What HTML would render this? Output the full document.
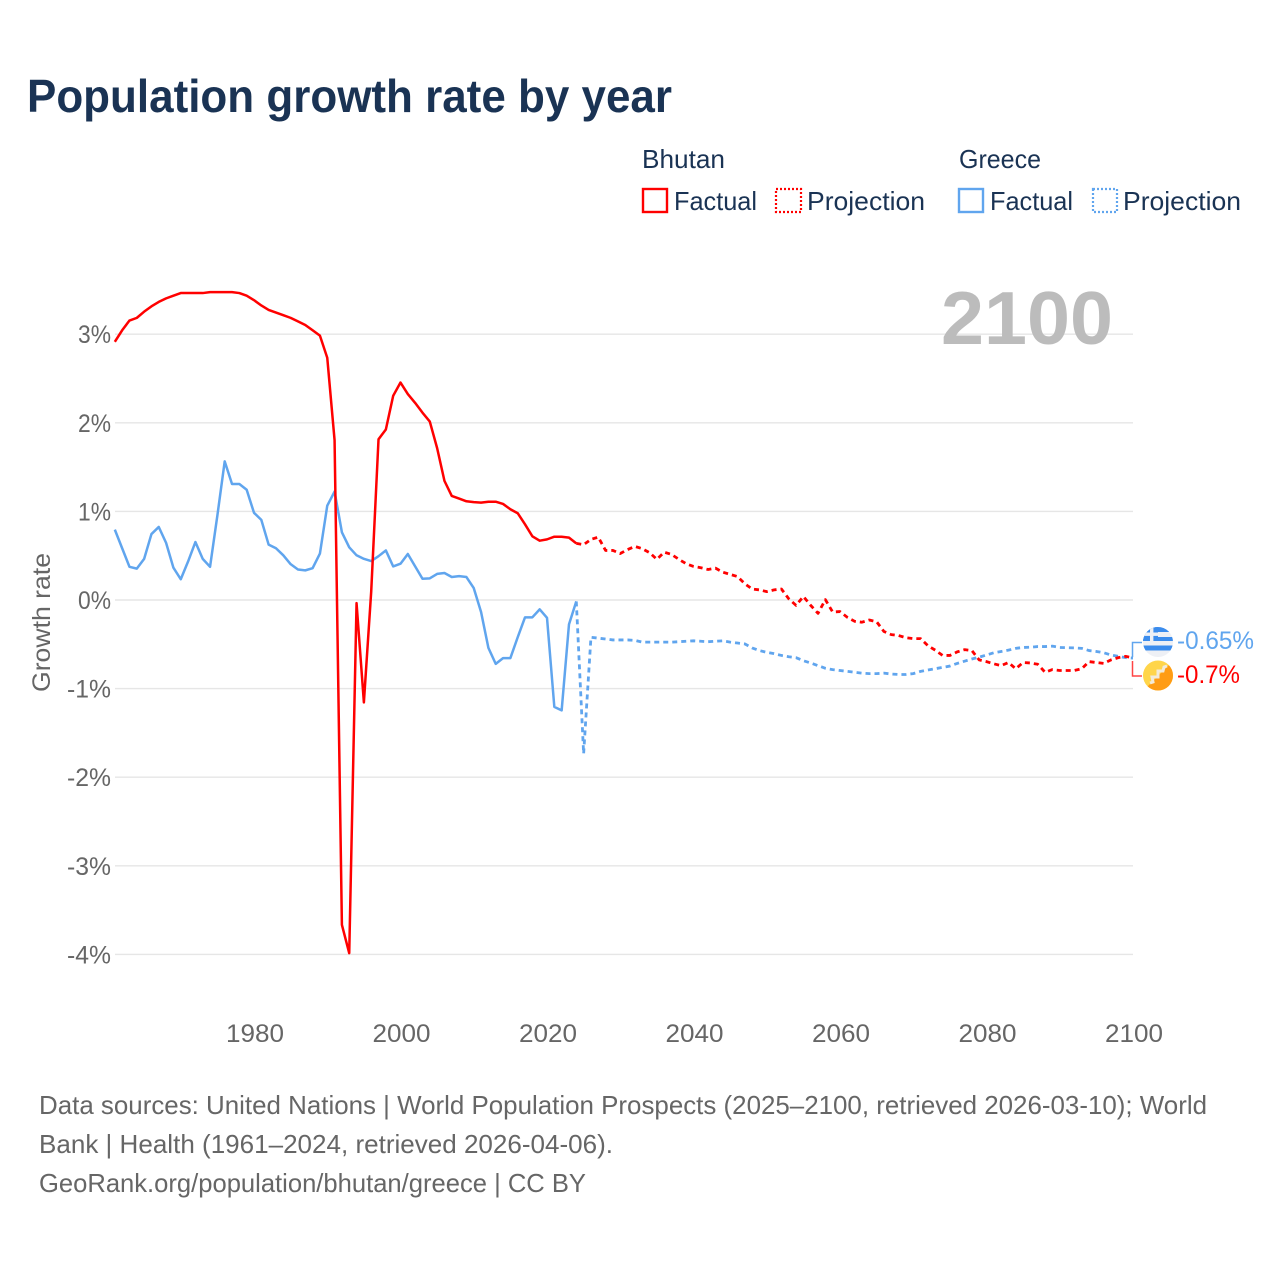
<!DOCTYPE html>
<html lang="en">
<head>
<meta charset="utf-8">
<title>Population growth rate by year</title>
<style>
html,body{margin:0;padding:0;background:#fff;}
svg{display:block;font-family:"Liberation Sans",sans-serif;}
</style>
</head>
<body>
<svg id="chart" width="1280" height="1280" viewBox="0 0 1280 1280" xmlns="http://www.w3.org/2000/svg">
<defs>
<clipPath id="flag-clip-gr"><circle cx="1158" cy="642" r="15"/></clipPath>
<clipPath id="flag-clip-bt"><circle cx="1158" cy="675.5" r="15"/></clipPath>
</defs>
<rect x="0" y="0" width="1280" height="1280" fill="#ffffff"/>
<text x="27" y="112" font-size="46" font-weight="700" fill="#1a3354" textLength="645" lengthAdjust="spacingAndGlyphs">Population growth rate by year</text>

<g font-size="26" fill="#1a3354">
<text x="642" y="168" textLength="83" lengthAdjust="spacingAndGlyphs">Bhutan</text>
<text x="959" y="168" textLength="82" lengthAdjust="spacingAndGlyphs">Greece</text>
<rect x="643" y="189" width="24" height="23" fill="none" stroke="#ff0000" stroke-width="2.4"/>
<text x="674" y="210" textLength="83" lengthAdjust="spacingAndGlyphs">Factual</text>
<rect x="776" y="189" width="25" height="23" fill="none" stroke="#ff0000" stroke-width="2.2" stroke-dasharray="2 2"/>
<text x="807" y="210" textLength="118" lengthAdjust="spacingAndGlyphs">Projection</text>
<rect x="959" y="189" width="24" height="23" fill="none" stroke="#60a5ee" stroke-width="2.4"/>
<text x="990" y="210" textLength="83" lengthAdjust="spacingAndGlyphs">Factual</text>
<rect x="1093" y="189" width="24" height="23" fill="none" stroke="#60a5ee" stroke-width="2.2" stroke-dasharray="2 2"/>
<text x="1123" y="210" textLength="118" lengthAdjust="spacingAndGlyphs">Projection</text>
</g>

<g id="grid"></g>
<text x="941" y="344" font-size="75" font-weight="700" fill="#bcbcbc" textLength="172" lengthAdjust="spacingAndGlyphs">2100</text>
<g id="yticks"></g>
<g id="xticks"></g>
<text transform="translate(50 692) rotate(-90)" x="0" y="0" font-size="25" fill="#666666" textLength="139" lengthAdjust="spacingAndGlyphs">Growth rate</text>
<g id="series"></g>

<path d="M1132.5 657V642.5H1142" fill="none" stroke="#60a5ee" stroke-width="1.5"/>
<path d="M1132.5 661V676H1142" fill="none" stroke="#ff4444" stroke-width="1.5"/>

<g clip-path="url(#flag-clip-gr)">
<rect x="1143" y="627" width="30" height="30" fill="#eef0f5"/>
<rect x="1143" y="627" width="30" height="5" fill="#3b8ced"/>
<rect x="1143" y="637" width="30" height="4" fill="#3b8ced"/>
<rect x="1143" y="645.5" width="30" height="5" fill="#3b8ced"/>
<rect x="1143" y="627" width="15" height="14" fill="#3b8ced"/>
<rect x="1150" y="627" width="3.4" height="14" fill="#eef0f5"/>
<rect x="1143" y="632.5" width="15" height="3.4" fill="#eef0f5"/>
</g>
<g clip-path="url(#flag-clip-bt)">
<rect x="1143" y="660" width="31" height="31" fill="#ffd54a"/>
<path d="M1174 660V691H1143Z" fill="#ff9c14"/>
<path d="M1150 683L1153 682L1152 677L1158 677L1158 671L1163 671L1164 667L1167 666" fill="none" stroke="#f3ead8" stroke-width="3"/>
</g>
<text x="1177" y="649" font-size="25" fill="#60a5ee" textLength="77" lengthAdjust="spacingAndGlyphs">-0.65%</text>
<text x="1177" y="683" font-size="25" fill="#ff0000" textLength="63" lengthAdjust="spacingAndGlyphs">-0.7%</text>

<g font-size="26" fill="#666666">
<text x="39" y="1114" textLength="1168" lengthAdjust="spacingAndGlyphs">Data sources: United Nations | World Population Prospects (2025–2100, retrieved 2026-03-10); World</text>
<text x="39" y="1153" textLength="574" lengthAdjust="spacingAndGlyphs">Bank | Health (1961–2024, retrieved 2026-04-06).</text>
<text x="39" y="1192" textLength="547" lengthAdjust="spacingAndGlyphs">GeoRank.org/population/bhutan/greece | CC BY</text>
</g>
</svg>
<script>
var firstFactualYear = 1961;
var firstProjectionYear = 2024;
var yTickValues = [3, 2, 1, 0, -1, -2, -3, -4];
var yTickLabels = ["3%", "2%", "1%", "0%", "-1%", "-2%", "-3%", "-4%"];
var xTickValues = [1980, 2000, 2020, 2040, 2060, 2080, 2100];
var xTickLabels = ["1980", "2000", "2020", "2040", "2060", "2080", "2100"];

var bhutanFactual = [2.92,3.05,3.16,3.19,3.26,3.32,3.37,3.41,3.44,3.47,3.47,3.47,3.47,3.48,3.48,3.48,3.48,3.47,3.44,3.39,3.33,3.28,3.25,3.22,3.19,3.15,3.11,3.05,2.99,2.74,1.81,-3.66,-3.98,-0.03,-1.15,0.1,1.82,1.93,2.31,2.46,2.33,2.23,2.12,2.02,1.72,1.35,1.18,1.15,1.12,1.11,1.105,1.115,1.115,1.09,1.03,0.985,0.86,0.725,0.675,0.69,0.72,0.72,0.71,0.645];
var bhutanProjection = [0.645,0.63,0.69,0.715,0.565,0.565,0.53,0.575,0.61,0.585,0.54,0.465,0.545,0.52,0.465,0.415,0.385,0.37,0.35,0.365,0.32,0.295,0.27,0.19,0.13,0.12,0.10,0.12,0.13,0.02,-0.055,0.045,-0.055,-0.145,0.01,-0.13,-0.125,-0.19,-0.235,-0.245,-0.22,-0.24,-0.35,-0.385,-0.395,-0.42,-0.43,-0.43,-0.51,-0.56,-0.62,-0.62,-0.58,-0.555,-0.565,-0.67,-0.69,-0.715,-0.735,-0.70,-0.77,-0.70,-0.705,-0.72,-0.81,-0.78,-0.79,-0.79,-0.79,-0.77,-0.69,-0.70,-0.71,-0.67,-0.645,-0.63,-0.65];
var greeceFactual = [0.80,0.59,0.38,0.36,0.47,0.75,0.83,0.65,0.37,0.24,0.44,0.66,0.47,0.38,0.96,1.57,1.315,1.315,1.25,0.99,0.91,0.63,0.59,0.51,0.41,0.35,0.34,0.365,0.53,1.07,1.23,0.77,0.60,0.51,0.47,0.445,0.50,0.565,0.385,0.415,0.525,0.385,0.245,0.25,0.30,0.31,0.265,0.275,0.265,0.14,-0.13,-0.535,-0.715,-0.65,-0.65,-0.415,-0.19,-0.19,-0.10,-0.195,-1.2,-1.24,-0.27,-0.01];
var greeceProjection = [-0.01,-1.73,-0.415,-0.425,-0.435,-0.445,-0.445,-0.445,-0.45,-0.47,-0.47,-0.47,-0.47,-0.47,-0.465,-0.46,-0.455,-0.46,-0.465,-0.46,-0.455,-0.47,-0.48,-0.49,-0.535,-0.565,-0.585,-0.60,-0.62,-0.635,-0.645,-0.68,-0.705,-0.735,-0.765,-0.78,-0.79,-0.80,-0.81,-0.82,-0.825,-0.825,-0.82,-0.83,-0.835,-0.835,-0.825,-0.80,-0.785,-0.77,-0.755,-0.74,-0.71,-0.685,-0.66,-0.64,-0.615,-0.59,-0.575,-0.56,-0.54,-0.53,-0.527,-0.52,-0.52,-0.515,-0.53,-0.533,-0.535,-0.54,-0.565,-0.575,-0.59,-0.615,-0.63,-0.645,-0.65];

var svgNS = "http://www.w3.org/2000/svg";
function xScale(year) { return 1134 - (2100 - year) * 7.325; }
function yScale(value) { return 600 - value * 88.6; }
function make(tag, parent) {
  var el = document.createElementNS(svgNS, tag);
  document.getElementById(parent).appendChild(el);
  return el;
}
function linePath(startYear, values) {
  var d = "";
  for (var i = 0; i < values.length; i++) {
    d += (i ? "L" : "M") + (xScale(startYear + i) - 1).toFixed(2) + " " + (yScale(values[i]) + 0.5).toFixed(2);
  }
  return d;
}

yTickValues.forEach(function (v, i) {
  var line = make("line", "grid");
  
  
  line.setAttribute("x1", 115);
  line.setAttribute("x2", 1133);
  line.setAttribute("y1", yScale(v));
  line.setAttribute("y2", yScale(v));
  line.setAttribute("stroke", "#e6e6e6");
  line.setAttribute("stroke-width", "1.4");
  var t = make("text", "yticks");
  
  
  var w = yTickLabels[i].length * 11 + 11;
  t.setAttribute("x", 111 - w);
  t.setAttribute("y", yScale(v) + 9);
  t.setAttribute("font-size", "25");
  t.setAttribute("fill", "#666666");
  t.setAttribute("textLength", w);
  t.setAttribute("lengthAdjust", "spacingAndGlyphs");
  t.textContent = yTickLabels[i];
});

xTickValues.forEach(function (v, i) {
  var t = make("text", "xticks");
  
  
  t.setAttribute("x", xScale(v) - 29);
  t.setAttribute("y", 1042);
  t.setAttribute("font-size", "25");
  t.setAttribute("fill", "#666666");
  t.setAttribute("textLength", 58);
  t.setAttribute("lengthAdjust", "spacingAndGlyphs");
  t.textContent = xTickLabels[i];
});

function style(p, color, dashed) {
  p.setAttribute("fill", "none");
  p.setAttribute("stroke", color);
  p.setAttribute("stroke-width", dashed ? "2.8" : "2.5");
  p.setAttribute("stroke-linejoin", "round");
  if (dashed) { p.setAttribute("stroke-dasharray", "5 4"); }
}

var gf = make("path", "series");


gf.setAttribute("d", linePath(firstFactualYear, greeceFactual));
style(gf, "#60a5ee", false);

var gp = make("path", "series");


gp.setAttribute("d", linePath(firstProjectionYear, greeceProjection));
style(gp, "#60a5ee", true);

var bf = make("path", "series");


bf.setAttribute("d", linePath(firstFactualYear, bhutanFactual));
style(bf, "#ff0000", false);

var bp = make("path", "series");


bp.setAttribute("d", linePath(firstProjectionYear, bhutanProjection));
style(bp, "#ff0000", true);
</script>
</body>
</html>
